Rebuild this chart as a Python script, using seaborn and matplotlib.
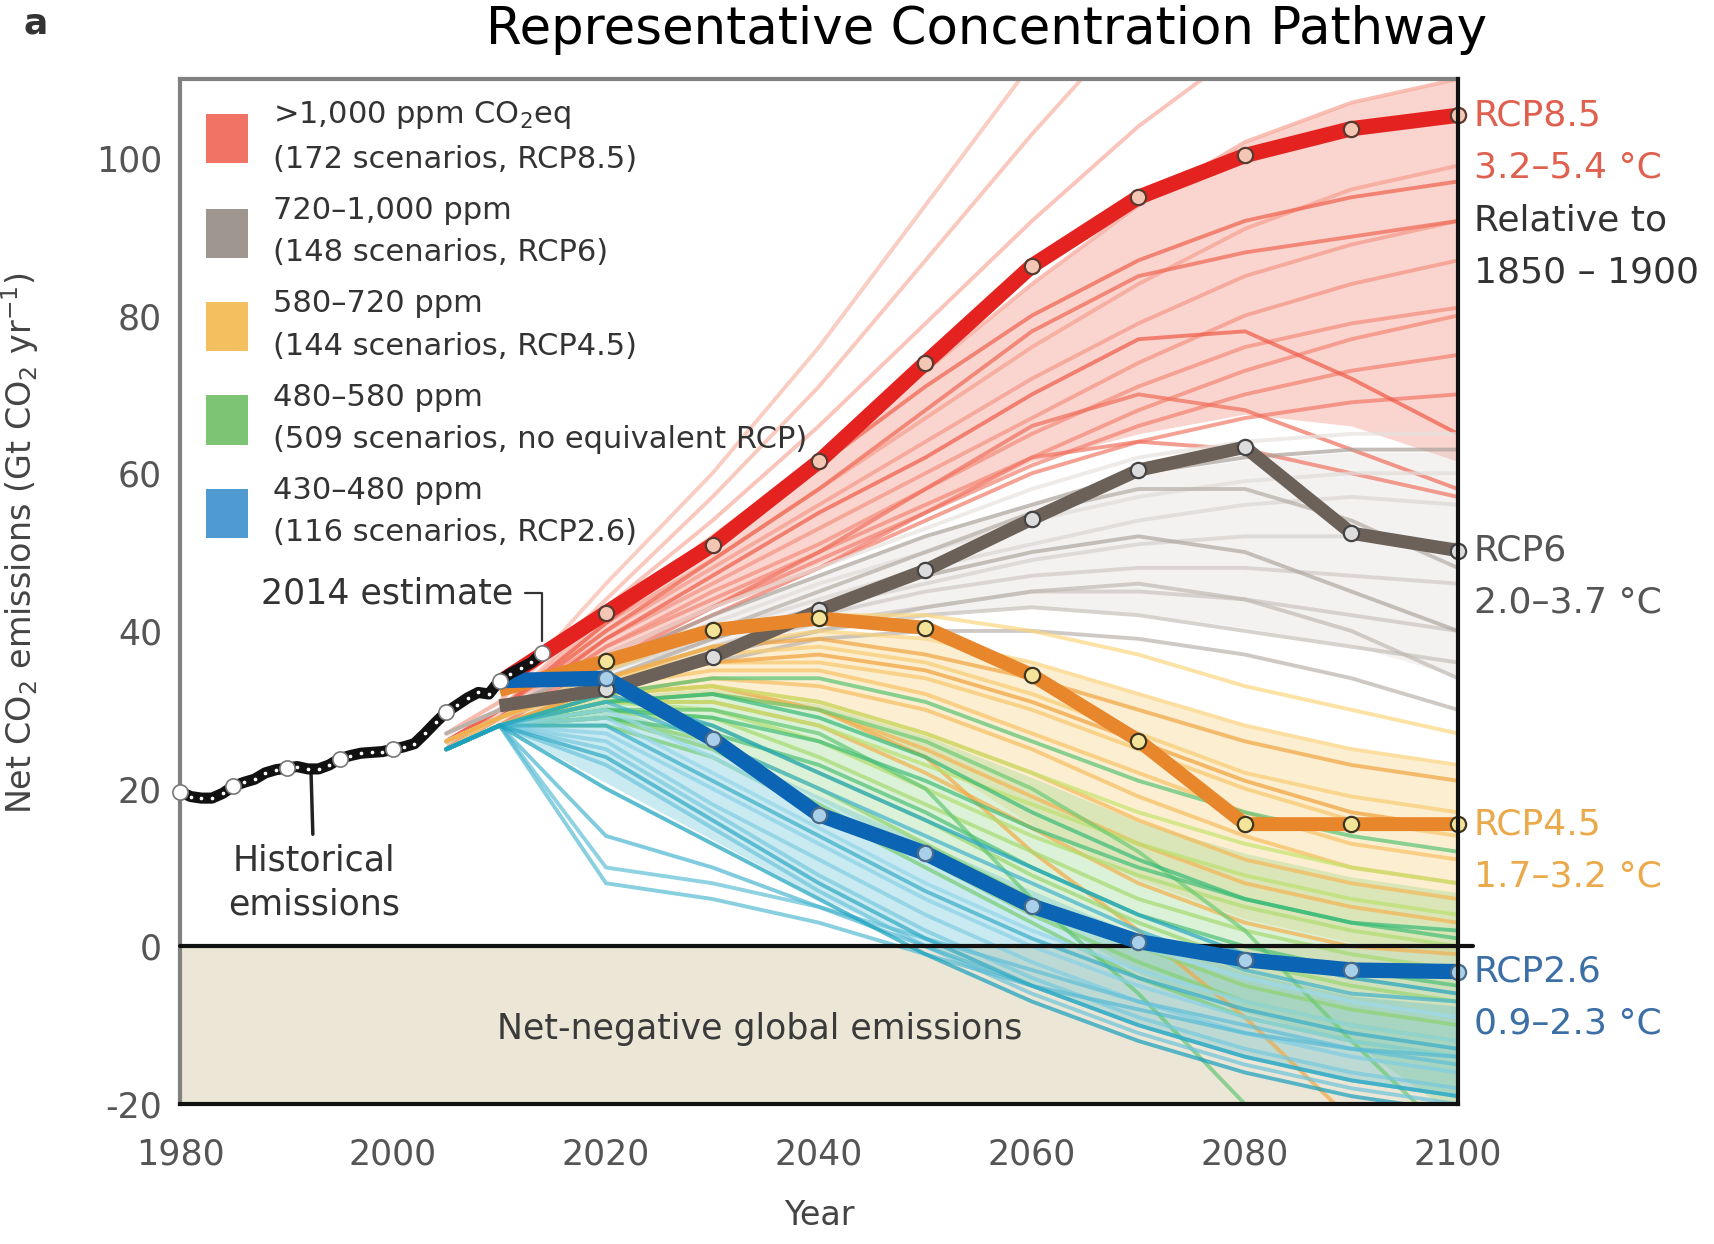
import matplotlib
matplotlib.use('Agg')
import matplotlib.pyplot as plt
from matplotlib.patches import Patch
import seaborn as sns
import pandas as pd

# historical emissions (Gt CO2 / yr)
hist_years = list(range(1980, 2015))
hist_values = [19.6, 19.0, 18.8, 18.8, 19.4, 20.3, 20.8, 21.2, 22.0, 22.4,
               22.6, 22.8, 22.5, 22.5, 23.0, 23.8, 24.2, 24.5, 24.6, 24.7,
               25.0, 25.3, 25.7, 27.0, 28.4, 29.7, 30.6, 31.5, 32.2, 32.0,
               33.7, 34.6, 35.3, 36.0, 37.2]
hist_mark_years = [1980, 1985, 1990, 1995, 2000, 2005, 2010, 2014]

# scenario bundles, values at these years
scen_years = [2005, 2010, 2020, 2030, 2040, 2050, 2060, 2070, 2080, 2090, 2100]

red_paths = [
    [27, 31, 46, 60, 76, 94, 112, 128, 140, 150, 158],
    [27, 31, 44, 57, 71, 87, 103, 118, 130, 138, 144],
    [27, 30, 43, 54, 66, 79, 92, 104, 114, 122, 128],
    [26, 30, 42, 52, 62, 73, 84, 94, 102, 107, 110],
    [26, 30, 41, 49, 58, 67, 76, 84, 91, 96, 99],
    [26, 30, 40, 48, 56, 64, 72, 79, 85, 89, 92],
    [25, 30, 39, 46, 53, 60, 67, 74, 80, 84, 87],
    [25, 29, 38, 45, 51, 58, 65, 71, 76, 79, 81],
    [25, 29, 38, 44, 50, 56, 62, 68, 73, 77, 80],
    [25, 29, 37, 43, 49, 55, 61, 66, 70, 73, 75],
    [25, 29, 37, 43, 48, 54, 60, 64, 67, 69, 70],
    [25, 29, 36, 42, 48, 55, 62, 64, 63, 60, 57],
    [25, 28, 36, 43, 50, 58, 66, 70, 68, 63, 58],
    [26, 30, 40, 49, 58, 68, 78, 85, 88, 90, 92],
    [26, 30, 41, 51, 61, 71, 80, 87, 92, 95, 97],
    [25, 29, 39, 47, 55, 62, 70, 77, 78, 72, 65],
]
gray_paths = [
    [27, 30, 37, 43, 48, 53, 58, 62, 64, 65, 65],
    [27, 30, 36, 41, 46, 50, 54, 57, 59, 60, 60],
    [26, 29, 35, 40, 44, 48, 51, 54, 56, 57, 56],
    [26, 29, 35, 39, 43, 46, 49, 51, 52, 52, 51],
    [26, 29, 34, 38, 42, 45, 47, 48, 48, 47, 46],
    [26, 29, 34, 38, 41, 43, 45, 45, 44, 42, 40],
    [25, 29, 33, 37, 40, 42, 43, 42, 40, 38, 36],
    [25, 28, 33, 37, 40, 43, 45, 46, 44, 40, 34],
    [25, 28, 33, 36, 39, 40, 40, 39, 37, 34, 30],
    [26, 29, 35, 40, 45, 50, 55, 58, 58, 54, 48],
    [26, 29, 34, 39, 43, 47, 50, 52, 50, 45, 40],
    [27, 30, 36, 42, 47, 52, 56, 60, 62, 63, 63],
]
orange_paths = [
    [26, 29, 35, 40, 42, 42, 40, 37, 33, 30, 27],
    [26, 29, 34, 38, 40, 39, 36, 32, 28, 25, 23],
    [26, 29, 34, 37, 38, 36, 32, 27, 22, 19, 17],
    [25, 29, 33, 36, 36, 34, 30, 25, 20, 16, 14],
    [25, 28, 33, 35, 35, 32, 27, 22, 17, 13, 11],
    [25, 28, 32, 34, 33, 30, 25, 19, 14, 10, 8],
    [25, 28, 32, 33, 31, 27, 22, 16, 11, 8, 6],
    [25, 28, 31, 32, 30, 25, 19, 13, 8, 5, 3],
    [25, 28, 31, 31, 28, 22, 15, 8, 3, 0, -1],
    [25, 28, 32, 33, 30, 24, 12, 2, -9, -22, -35],
    [26, 29, 34, 38, 39, 37, 34, 30, 26, 23, 21],
    [25, 28, 33, 36, 37, 35, 31, 26, 21, 17, 15],
]
green_paths = [
    [25, 28, 32, 33, 31, 27, 22, 17, 13, 10, 8],
    [25, 28, 31, 31, 28, 23, 18, 13, 9, 6, 4],
    [25, 28, 31, 30, 26, 20, 14, 9, 5, 2, 0],
    [25, 28, 30, 29, 24, 18, 12, 6, 2, -1, -3],
    [25, 28, 30, 28, 22, 16, 9, 3, -2, -5, -7],
    [25, 28, 29, 26, 20, 13, 6, 0, -5, -8, -10],
    [25, 28, 29, 25, 18, 11, 4, -2, -7, -10, -12],
    [25, 28, 28, 24, 17, 10, 3, -4, -9, -12, -14],
    [25, 28, 31, 32, 30, 26, 20, 12, 2, -12, -25],
    [25, 28, 30, 30, 27, 20, 6, -6, -20, -34, -48],
    [25, 28, 32, 34, 34, 31, 26, 21, 17, 14, 12],
    [25, 28, 29, 27, 23, 17, 10, 4, 0, -3, -5],
    [25, 28, 30, 29, 26, 21, 15, 10, 6, 3, 1],
    [25, 28, 31, 32, 29, 24, 17, 11, 6, 3, 2],
]
blue_paths = [
    [25, 28, 30, 24, 17, 11, 5, 0, -4, -7, -9],
    [25, 28, 29, 22, 15, 8, 2, -3, -7, -10, -12],
    [25, 28, 27, 20, 13, 6, 0, -5, -9, -12, -14],
    [25, 28, 26, 18, 11, 4, -2, -7, -11, -14, -16],
    [25, 28, 25, 17, 9, 2, -4, -9, -13, -16, -18],
    [25, 28, 23, 15, 7, 0, -6, -11, -15, -18, -20],
    [25, 28, 10, 8, 5, 1, -3, -7, -10, -13, -15],
    [25, 28, 8, 6, 3, -1, -5, -8, -11, -13, -14],
    [25, 28, 14, 10, 5, 0, -5, -10, -14, -17, -19],
    [25, 28, 31, 26, 20, 14, 8, 2, -3, -6, -7],
    [25, 28, 28, 21, 14, 7, 1, -4, -8, -11, -13],
    [25, 28, 24, 16, 8, 1, -5, -10, -14, -17, -19],
    [25, 28, 32, 28, 22, 16, 10, 4, -1, -4, -6],
    [25, 28, 20, 13, 6, -1, -7, -12, -16, -19, -21],
]

# representative concentration pathways
rcp_years = [2010, 2020, 2030, 2040, 2050, 2060, 2070, 2080, 2090, 2100]
rcp85 = [33.5, 42.3, 50.9, 61.5, 74.0, 86.3, 95.0, 100.3, 103.7, 105.4]
rcp6 = [30.5, 32.6, 36.7, 42.6, 47.7, 54.2, 60.4, 63.3, 52.4, 50.2]
rcp45 = [32.5, 36.2, 40.1, 41.6, 40.4, 34.4, 26.1, 15.5, 15.5, 15.5]
rcp26 = [33.7, 34.0, 26.3, 16.7, 11.8, 5.1, 0.6, -1.7, -3.0, -3.2]

legend_labels = [
    '>1,000 ppm CO$_2$eq\n(172 scenarios, RCP8.5)',
    '720–1,000 ppm\n(148 scenarios, RCP6)',
    '580–720 ppm\n(144 scenarios, RCP4.5)',
    '480–580 ppm\n(509 scenarios, no equivalent RCP)',
    '430–480 ppm\n(116 scenarios, RCP2.6)',
]
rcp_names = ['RCP8.5', 'RCP6', 'RCP4.5', 'RCP2.6']
rcp_ranges = ['3.2–5.4 °C', '2.0–3.7 °C', '1.7–3.2 °C', '0.9–2.3 °C']
ref_period = ['Relative to', '1850 – 1900']


def to_long(paths, tag):
    """Transforma a lista de trajetórias num DataFrame longo."""
    rows = []
    for i, p in enumerate(paths):
        for yr, v in zip(scen_years, p):
            rows.append((f'{tag}{i}', yr, v))
    return pd.DataFrame(rows, columns=['scenario', 'year', 'value'])


sns.set_style('white')
plt.rcParams['font.family'] = ['DejaVu Sans']
plt.rcParams['axes.unicode_minus'] = False

fig = plt.figure(figsize=(17.15, 12.44), dpi=100)
ax = fig.add_axes([0.105, 0.1125, 0.7451, 0.824])

# região de emissões negativas
ax.axhspan(-20, 0, color='#ece6d6', zorder=0, lw=0)

# feixes de cenários: (trajetórias, prefixo, cores, cor do preenchimento, quantis, alpha)
bundles = [
    (red_paths, 'r', ['#f9b8aa', '#ee5a46'], '#f38877', (0.1, 0.8), 0.35),
    (gray_paths, 'g', ['#e6e2df', '#aaa19a'], '#d2ccc8', (0.1, 0.9), 0.25),
    (orange_paths, 'o', ['#fbd67e', '#f0a03a'], '#f7c864', (0.1, 0.9), 0.3),
    (green_paths, 'n', ['#c6e36e', '#36ba78'], '#8cd47e', (0.1, 0.9), 0.3),
    (blue_paths, 'b', ['#9fdaee', '#17a0bd'], '#4fbcd0', (0.25, 0.9), 0.3),
]
for paths, tag, cols, fill_col, qs, fa in bundles:
    df = to_long(paths, tag)
    q = df.groupby('year')['value']
    ax.fill_between(scen_years, q.quantile(qs[0]).values, q.quantile(qs[1]).values,
                    color=fill_col, alpha=fa, lw=0, zorder=1)
    pal = sns.blend_palette(cols, n_colors=len(paths))
    sns.lineplot(data=df, x='year', y='value', units='scenario', estimator=None,
                 hue='scenario', palette=pal, lw=2.8, alpha=0.7, legend=False,
                 ax=ax, zorder=2)

# linha do zero
ax.axhline(0, xmin=0, xmax=1.012, color='#111111', lw=3, clip_on=False, zorder=4)

# RCPs
rcp_styles = [
    (rcp85, '#e42320', '#f4c6b4', '#5a3a30', 11),
    (rcp6, '#6b6158', '#dcdcdc', '#444444', 9.5),
    (rcp45, '#e8862c', '#f3e49a', '#3d3520', 10),
    (rcp26, '#0b64b4', '#a9d0ea', '#4a6a8a', 11),
]
for vals, col, mfc, mec, lw in rcp_styles:
    ax.plot(rcp_years, vals, color=col, lw=lw, solid_capstyle='butt',
            solid_joinstyle='round', zorder=5, clip_on=False)
    ax.plot(rcp_years[1:], vals[1:], ls='none', marker='o', markersize=11,
            markerfacecolor=mfc, markeredgecolor=mec, markeredgewidth=1.6,
            zorder=6, clip_on=False)

# emissões históricas
sns.lineplot(x=hist_years, y=hist_values, color='#111111', lw=8, ax=ax, zorder=7)
ax.scatter(hist_years, hist_values, s=7, color='white', zorder=8, lw=0)
hist_mark_values = [hist_values[hist_years.index(y)] for y in hist_mark_years]
ax.scatter(hist_mark_years, hist_mark_values, s=120, facecolor='white',
           edgecolor='#777777', linewidth=1.2, zorder=9, clip_on=False)

# anotações
ax.annotate('2014 estimate', xy=(2014, hist_values[-1]), xytext=(2011.3, 44.8),
            ha='right', va='center', fontsize=25, color='#333333',
            arrowprops=dict(arrowstyle='-', color='#333333', lw=1.6,
                            connectionstyle='angle,angleA=0,angleB=90,rad=0',
                            relpos=(1, 0.5), shrinkA=6, shrinkB=9))
ax.annotate('Historical\nemissions', xy=(1992.3, 22.0), xytext=(1992.6, 8.1),
            ha='center', va='center', fontsize=25, color='#333333', linespacing=1.4,
            arrowprops=dict(arrowstyle='-', color='#222222', lw=2.5,
                            shrinkA=4, shrinkB=0))
ax.text(2034.4, -10.5, 'Net-negative global emissions', ha='center', va='center',
        fontsize=25, color='#3a3a3a', zorder=10)

# rótulos à direita
label_cols = ['#e0604f', '#555555', '#eaa94a', '#3b6fa6']
for name, rng, vals, col in zip(rcp_names, rcp_ranges, [rcp85, rcp6, rcp45, rcp26], label_cols):
    y0 = vals[-1]
    ax.text(2101.5, y0, name, ha='left', va='center', fontsize=26, color=col, clip_on=False)
    ax.text(2101.5, y0 - 6.6, rng, ha='left', va='center', fontsize=26, color=col, clip_on=False)
for i, t in enumerate(ref_period):
    ax.text(2101.5, rcp85[-1] - 13.3 - 6.6 * i, t, ha='left', va='center',
            fontsize=26, color='#333333', clip_on=False)

# legenda
swatches = ['#ee5a4a', '#8e847c', '#f3b443', '#66bb5c', '#2f88c9']
handles = [Patch(facecolor=c, edgecolor='none', alpha=0.85) for c in swatches]
leg = ax.legend(handles, legend_labels, loc='upper left', bbox_to_anchor=(0.02, 0.98),
                frameon=False, fontsize=22, handlelength=1.4, handleheight=2.1,
                handletextpad=0.8, labelspacing=0.72, borderaxespad=0, borderpad=0)
for t in leg.get_texts():
    t.set_color('#333333')
    t.set_linespacing(1.58)

# eixos
ax.set_xlim(1980, 2100)
ax.set_ylim(-20, 110)
ax.set_xticks(range(1980, 2101, 20))
ax.set_yticks(range(-20, 101, 20))
ax.tick_params(axis='both', labelsize=25, colors='#555555', direction='out')
ax.tick_params(axis='x', length=10, width=2, pad=14)
ax.tick_params(axis='y', length=10, width=3, pad=3)
for s in ['left', 'top']:
    ax.spines[s].set_color('#808080')
    ax.spines[s].set_linewidth(3)
for s in ['right', 'bottom']:
    ax.spines[s].set_color('#111111')
    ax.spines[s].set_linewidth(3)
    ax.spines[s].set_zorder(11)

ax.set_xlabel('Year', fontsize=24, color='#444444', labelpad=20)
ax.set_ylabel('Net CO$_2$ emissions (Gt CO$_2$ yr$^{-1}$)', fontsize=24, color='#444444')
ax.yaxis.set_label_coords(-0.109, 0.547)

fig.text(0.575, 1 - 44 / 1244, 'Representative Concentration Pathway', ha='center',
         va='baseline', fontsize=37, color='black')
fig.text(36 / 1715, 1 - 23 / 1244, 'a', ha='center', va='center', fontsize=26,
         fontweight='bold', color='#333333')

fig.savefig('out.png', dpi=100)
